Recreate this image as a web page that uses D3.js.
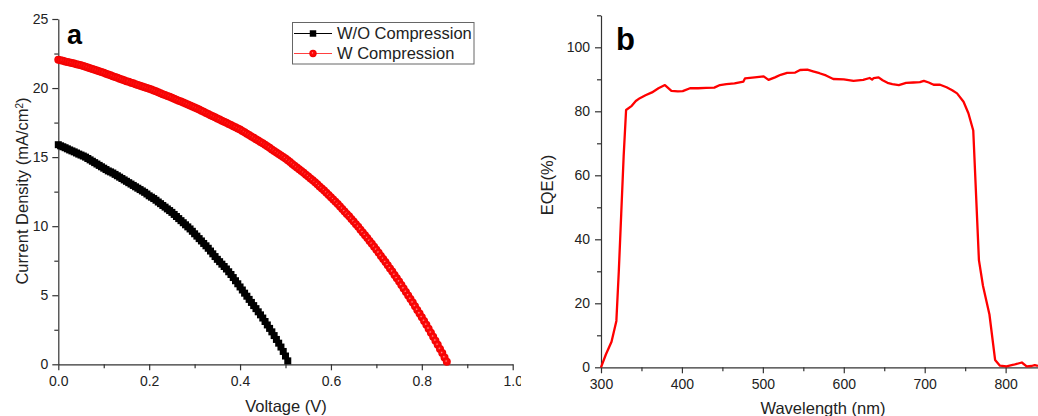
<!DOCTYPE html>
<html>
<head>
<meta charset="utf-8">
<script src="https://cdn.jsdelivr.net/npm/d3@7"></script>
<style>
body{margin:0;background:#fff;}
svg{display:block;font-family:"Liberation Sans",Arial,sans-serif;}
.axis path,.axis line{stroke:#333;stroke-width:1.2;}
.axis text{font-size:14px;fill:#222;font-family:"Liberation Sans",Arial,sans-serif;}
.title{font-size:16.5px;fill:#222;}
</style>
</head>
<body>
<svg id="chart" width="1038" height="416"></svg>
<script>
// J-V curves, sampled every 5 mV
const vStep = 0.005
const jWO = [15.90,15.82,15.75,15.68,15.60,15.52,15.45,15.38,15.30,15.22,
  15.15,15.08,15.00,14.90,14.80,14.70,14.60,14.50,14.40,14.30,
  14.20,14.10,14.00,13.93,13.85,13.75,13.65,13.55,13.45,13.35,
  13.25,13.15,13.05,12.95,12.85,12.75,12.65,12.55,12.45,12.33,
  12.20,12.10,12.00,11.88,11.75,11.63,11.50,11.38,11.25,11.13,
  11.00,10.85,10.70,10.55,10.40,10.25,10.10,9.95,9.80,9.63,
  9.45,9.28,9.10,8.93,8.75,8.58,8.40,8.20,8.00,7.80,
  7.60,7.43,7.25,7.08,6.90,6.70,6.50,6.28,6.05,5.83,
  5.60,5.38,5.15,4.93,4.70,4.48,4.25,4.03,3.80,3.58,
  3.35,3.10,2.85,2.60,2.35,2.08,1.80,1.53,1.25,0.93,
  0.60,0.25]
const jW = [22.05,22.01,21.97,21.93,21.89,21.85,21.81,21.77,21.73,21.69,
  21.65,21.60,21.54,21.49,21.43,21.38,21.32,21.27,21.21,21.16,
  21.10,21.04,20.98,20.92,20.86,20.80,20.74,20.68,20.62,20.56,
  20.50,20.45,20.39,20.34,20.28,20.23,20.17,20.12,20.06,20.01,
  19.95,19.89,19.82,19.76,19.69,19.63,19.56,19.50,19.43,19.37,
  19.30,19.23,19.16,19.09,19.02,18.95,18.88,18.81,18.74,18.67,
  18.60,18.52,18.44,18.36,18.28,18.20,18.12,18.04,17.96,17.88,
  17.80,17.72,17.64,17.56,17.48,17.40,17.32,17.24,17.16,17.08,
  17.00,16.90,16.80,16.70,16.60,16.50,16.40,16.30,16.20,16.10,
  16.00,15.89,15.78,15.67,15.56,15.45,15.34,15.23,15.12,15.01,
  14.90,14.77,14.64,14.51,14.38,14.25,14.12,13.99,13.86,13.73,
  13.60,13.46,13.32,13.18,13.03,12.88,12.73,12.58,12.42,12.26,
  12.10,11.94,11.77,11.60,11.43,11.25,11.07,10.89,10.71,10.52,
  10.33,10.14,9.95,9.75,9.55,9.35,9.14,8.93,8.72,8.51,
  8.29,8.08,7.85,7.63,7.40,7.17,6.94,6.71,6.47,6.23,
  5.99,5.74,5.49,5.24,4.99,4.73,4.47,4.21,3.94,3.68,
  3.41,3.14,2.86,2.58,2.29,2.00,1.71,1.41,1.11,0.81,
  0.50,0.19]
const seriesNames = ["W/O Compression", "W Compression"]

// EQE spectrum
const wavelength = [300,306,313,319,322,325,328,331,338,343,348,355,363,371,379,387,395,401,410,420,
  430,440,447,455,465,476,478,490,501,507,515,522,530,540,546,555,562,570,578,587,
  600,612,624,632,635,637,643,648,654,660,668,677,686,694,699,705,711,719,727,734,
  740,748,754,760,767,772,780,787,793,801,810,820,826,832,836,840]
const eqe = [0,4,8,14.5,30,48,66,80.4,81.7,83.2,84.1,85.0,85.9,87.2,88.2,86.4,86.2,86.3,87.2,87.2,
  87.3,87.4,88.2,88.5,88.7,89.3,90.3,90.6,90.9,89.8,90.6,91.4,92.0,92.1,92.9,93.0,92.5,91.9,91.2,90.1,
  90.0,89.5,89.8,90.4,89.9,90.4,90.6,89.7,88.9,88.5,88.2,88.9,89.0,89.1,89.5,89.0,88.3,88.3,87.5,86.6,
  85.6,83.0,79.4,74.0,33.5,25.5,16.5,2.3,0.5,0.3,0.8,1.5,0.3,0.4,0.7,0.4]

// ticks
const xTicksA = [0,0.2,0.4,0.6,0.8,1.0]
const xMinorA = [0.1,0.3,0.5,0.7,0.9]
const yTicksA = [0,5,10,15,20,25]
const yMinorA = [2.5,7.5,12.5,17.5,22.5]
const xTicksB = [300,400,500,600,700,800]
const xMinorB = [350,450,550,650,750]
const yTicksB = [0,20,40,60,80,100]
const yMinorB = [10,30,50,70,90,110]

const svg = d3.select("#chart")
svg.append("rect").attr("width",1038).attr("height",416).attr("fill","#fff")

const defs = svg.append("defs")
defs.append("clipPath").attr("id","clipA").append("rect").attr("width",521).attr("height",416)
const grad = defs.append("radialGradient").attr("id","redBall").attr("fx","0.4").attr("fy","0.4")
grad.append("stop").attr("offset","0").attr("stop-color","#ff9a9a")
grad.append("stop").attr("offset","0.3").attr("stop-color","#ff0c0c")
grad.append("stop").attr("offset","1").attr("stop-color","#f00000")

function addAxis(g, axis, transform, minor){
    const a = g.append("g").attr("class","axis").attr("transform",transform).call(axis)
    if (minor) a.select(".domain").remove()
    return a
}

//Panel a
const gA = svg.append("g").attr("clip-path","url(#clipA)")
const xA = d3.scaleLinear().domain([0,1]).range([58.3,512.7])
const yA = d3.scaleLinear().domain([0,25]).range([364.3,19])

addAxis(gA, d3.axisBottom(xA).tickValues(xMinorA).tickSize(4).tickFormat(""), `translate(0,${yA(0)})`, true)
addAxis(gA, d3.axisLeft(yA).tickValues(yMinorA).tickSize(4).tickFormat(""), `translate(${xA(0)},0)`, true)
addAxis(gA, d3.axisBottom(xA).tickValues(xTicksA).tickFormat(d3.format(".1f")).tickSize(6).tickSizeOuter(0).tickPadding(6), `translate(0,${yA(0)})`)
addAxis(gA, d3.axisLeft(yA).tickValues(yTicksA).tickSize(6).tickSizeOuter(0).tickPadding(4), `translate(${xA(0)},0)`)

const woPts = jWO.map((j,i) => [i*vStep, j])
const wPts = jW.map((j,i) => [i*vStep, j])
const lineA = d3.line().x(d => xA(d[0])).y(d => yA(d[1]))

gA.append("path").datum(woPts).attr("d",lineA).attr("fill","none").attr("stroke","#000").attr("stroke-width",1)
gA.append("path").datum(wPts).attr("d",lineA).attr("fill","none").attr("stroke","#ff3030").attr("stroke-width",1)

const square = d3.symbol(d3.symbolSquare, 49)
gA.selectAll("path.wo")
    .data(woPts)
    .join("path")
    .attr("class","wo")
    .attr("d", square)
    .attr("transform", d => `translate(${xA(d[0])},${yA(d[1])})`)
    .attr("fill","#000")

gA.selectAll("circle.w")
    .data(wPts)
    .join("circle")
    .attr("class","w")
    .attr("cx", d => xA(d[0]))
    .attr("cy", d => yA(d[1]))
    .attr("r",4)
    .attr("fill","url(#redBall)")

const yTitleA = gA.append("text").attr("class","title")
    .attr("text-anchor","middle")
    .attr("transform","translate(27.5,191) rotate(-90)")
yTitleA.append("tspan").text("Current Density (mA/cm")
yTitleA.append("tspan").attr("baseline-shift","super").attr("font-size","10px").text("2")
yTitleA.append("tspan").text(")")

gA.append("text").attr("class","title")
    .attr("text-anchor","middle")
    .attr("x",286).attr("y",411.5)
    .text("Voltage (V)")

gA.append("text").attr("x",67).attr("y",43.5)
    .attr("font-size","27px").attr("font-weight","bold").attr("font-family","Arial, 'Liberation Sans', sans-serif")
    .text("a")

// legend
const legend = gA.append("g")
legend.append("rect").attr("x",292.5).attr("y",22.5).attr("width",181.5).attr("height",41.5)
    .attr("fill","#fff").attr("stroke","#666").attr("stroke-width",1)
const legRows = legend.selectAll("g.row").data(seriesNames).join("g").attr("class","row")
    .attr("transform",(d,i) => `translate(0,${33.5 + i*20})`)
legRows.append("line").attr("x1",294).attr("x2",332)
    .attr("stroke",(d,i) => i ? "#ff4040" : "#000").attr("stroke-width",1)
legRows.filter((d,i) => i === 0).append("path").attr("d",d3.symbol(d3.symbolSquare, 42)).attr("transform","translate(313,0)").attr("fill","#000")
legRows.filter((d,i) => i === 1).append("circle").attr("cx",313).attr("r",3.7).attr("fill","url(#redBall)")
legRows.append("text").attr("x",337).attr("y",5.5).attr("font-size","16.5px").attr("fill","#222").text(d => d)

//Panel b
const gB = svg.append("g")
const xB = d3.scaleLinear().domain([300,840]).range([601,1038])
const yB = d3.scaleLinear().domain([0,110]).range([367.3,15.3])

addAxis(gB, d3.axisBottom(xB).tickValues(xMinorB).tickSize(4).tickFormat(""), `translate(0,${yB(0)})`, true)
addAxis(gB, d3.axisLeft(yB).tickValues(yMinorB).tickSize(4).tickFormat(""), `translate(${xB(300)},0)`, true)
addAxis(gB, d3.axisBottom(xB).tickValues(xTicksB).tickSize(6).tickSizeOuter(0).tickPadding(6), `translate(0,${yB(0)})`)
addAxis(gB, d3.axisLeft(yB).tickValues(yTicksB).tickSize(6).tickSizeOuter(0).tickPadding(5), `translate(${xB(300)},0)`)

const eqePts = wavelength.map((w,i) => [w, eqe[i]])
gB.append("path").datum(eqePts)
    .attr("d", d3.line().x(d => xB(d[0])).y(d => yB(d[1])))
    .attr("fill","none").attr("stroke","#ff0000").attr("stroke-width",2.3).attr("stroke-linejoin","round")

gB.append("text").attr("class","title")
    .attr("text-anchor","middle")
    .attr("transform","translate(552.5,185) rotate(-90)")
    .text("EQE(%)")

gB.append("text").attr("class","title")
    .attr("text-anchor","middle")
    .attr("x",823).attr("y",413.5)
    .text("Wavelength (nm)")

gB.append("text").attr("x",616).attr("y",50)
    .attr("font-size","31px").attr("font-weight","bold").attr("font-family","Arial, 'Liberation Sans', sans-serif")
    .text("b")
</script>
</body>
</html>
